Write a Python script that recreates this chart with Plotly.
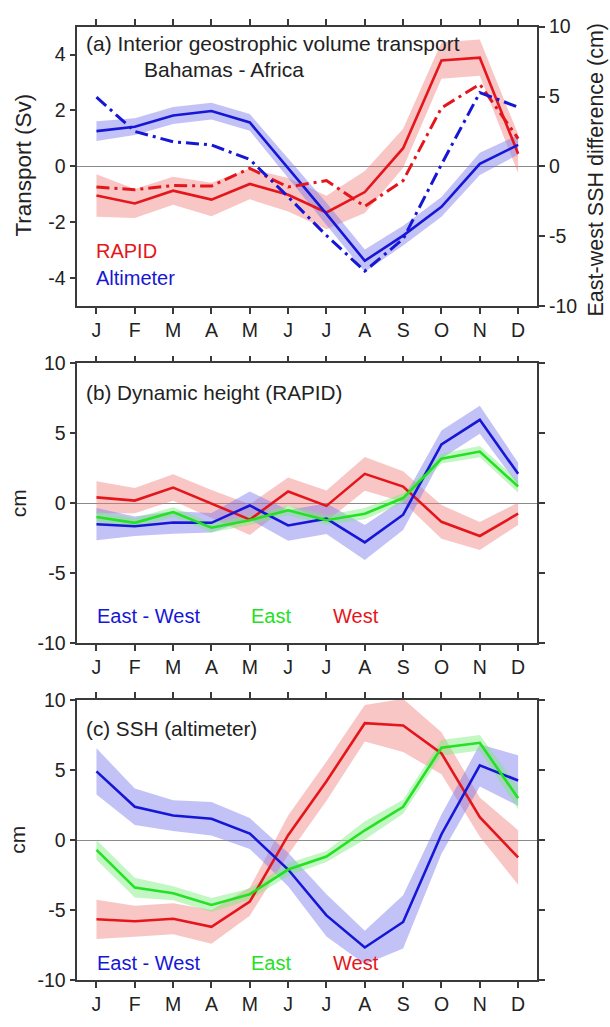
import plotly.graph_objects as go

months = ['J', 'F', 'M', 'A', 'M', 'J', 'J', 'A', 'S', 'O', 'N', 'D']
mnum = list(range(1, 13))
ticks_a = [-4, -2, 0, 2, 4]
ticks_cm = [-10, -5, 0, 5, 10]

# Panel (a): transport (Sv) and east-west SSH difference (cm)
a_rapid = [-1.04, -1.33, -0.87, -1.19, -0.63, -1.02, -1.65, -0.92, 0.65, 3.79, 3.89, 0.45]
a_rapid_err = [0.76, 0.52, 0.5, 0.6, 0.55, 0.6, 0.6, 0.75, 0.7, 0.65, 0.65, 0.7]
a_alt = [1.26, 1.42, 1.82, 1.98, 1.57, -0.05, -1.7, -3.38, -2.48, -1.45, 0.09, 0.77]
a_alt_err = [0.35, 0.3, 0.3, 0.3, 0.3, 0.35, 0.4, 0.4, 0.35, 0.35, 0.4, 0.35]
a_rapid_ssh = [-1.48, -1.67, -1.37, -1.41, -0.14, -1.48, -1.02, -2.87, -1.02, 4.19, 5.88, 1.99]
a_alt_ssh = [4.95, 2.5, 1.76, 1.53, 0.49, -2.18, -4.95, -7.5, -5.2, 0.14, 5.28, 4.24]

# Panel (b): dynamic height (RAPID), cm
b_ew = [-1.5, -1.64, -1.38, -1.4, -0.16, -1.59, -1.1, -2.8, -0.82, 4.2, 5.96, 2.1]
b_ew_err = [1.15, 0.7, 0.8, 0.7, 1.0, 1.1, 1.1, 1.25, 1.1, 1.0, 1.0, 0.8]
b_east = [-0.98, -1.4, -0.63, -1.75, -1.21, -0.51, -1.21, -0.75, 0.37, 3.18, 3.69, 1.19]
b_east_err = [0.4, 0.35, 0.35, 0.35, 0.35, 0.35, 0.35, 0.4, 0.35, 0.35, 0.4, 0.45]
b_west = [0.42, 0.19, 1.12, -0.05, -1.17, 0.84, -0.19, 2.1, 1.19, -1.33, -2.34, -0.75]
b_west_err = [1.15, 0.9, 0.95, 1.0, 1.1, 1.0, 1.1, 1.2, 1.1, 1.2, 1.0, 0.8]

# Panel (c): SSH (altimeter), cm
c_ew = [4.9, 2.38, 1.75, 1.52, 0.47, -2.1, -5.37, -7.66, -5.84, 0.42, 5.33, 4.25]
c_ew_err = [1.65, 1.3, 1.1, 1.2, 1.1, 1.2, 1.5, 1.2, 1.9, 1.4, 1.5, 1.8]
c_east = [-0.7, -3.39, -3.79, -4.63, -3.86, -2.1, -1.17, 0.7, 2.38, 6.59, 6.94, 2.99]
c_east_err = [0.7, 0.7, 0.5, 0.5, 0.4, 0.45, 0.4, 0.65, 0.5, 0.55, 0.55, 0.8]
c_west = [-5.65, -5.79, -5.61, -6.19, -4.39, 0.35, 4.2, 8.34, 8.18, 6.19, 1.64, -1.24]
c_west_err = [1.4, 1.1, 1.1, 1.2, 1.0, 1.4, 1.4, 1.3, 1.9, 1.5, 1.4, 1.95]

RED = 'rgb(228,22,28)'
BLUE = 'rgb(22,22,215)'
GREEN = 'rgb(36,225,36)'
RED_F = 'rgba(240,120,120,0.42)'
BLUE_F = 'rgba(120,120,235,0.45)'
GREEN_F = 'rgba(120,235,120,0.45)'
FONT = 'Liberation Sans, Arial, sans-serif'
AX = '#3a3a3a'

fig = go.Figure()


def band(vals, err, fill, xa, ya):
    up = [v + e for v, e in zip(vals, err)]
    lo = [v - e for v, e in zip(vals, err)]
    fig.add_trace(go.Scatter(x=mnum + mnum[::-1], y=up + lo[::-1], fill='toself',
                             fillcolor=fill, line=dict(width=0), mode='lines',
                             hoverinfo='skip', showlegend=False, xaxis=xa, yaxis=ya))


def line(vals, color, xa, ya, dash='solid', width=2.6):
    fig.add_trace(go.Scatter(x=mnum, y=vals, mode='lines',
                             line=dict(color=color, width=width, dash=dash),
                             showlegend=False, xaxis=xa, yaxis=ya))


DASHDOT = '13px,5px,3px,5px'

# panel a
band(a_rapid, a_rapid_err, RED_F, 'x', 'y')
band(a_alt, a_alt_err, BLUE_F, 'x', 'y')
line(a_rapid, RED, 'x', 'y')
line(a_alt, BLUE, 'x', 'y')
line(a_rapid_ssh, RED, 'x', 'y2', dash=DASHDOT, width=3)
line(a_alt_ssh, BLUE, 'x', 'y2', dash=DASHDOT, width=3)

# panel b
band(b_west, b_west_err, RED_F, 'x2', 'y3')
band(b_ew, b_ew_err, BLUE_F, 'x2', 'y3')
band(b_east, b_east_err, GREEN_F, 'x2', 'y3')
line(b_west, RED, 'x2', 'y3')
line(b_ew, BLUE, 'x2', 'y3')
line(b_east, GREEN, 'x2', 'y3')

# panel c
band(c_west, c_west_err, RED_F, 'x3', 'y4')
band(c_ew, c_ew_err, BLUE_F, 'x3', 'y4')
band(c_east, c_east_err, GREEN_F, 'x3', 'y4')
line(c_west, RED, 'x3', 'y4')
line(c_ew, BLUE, 'x3', 'y4')
line(c_east, GREEN, 'x3', 'y4')

W, H = 610, 1027
xdom = [77.3 / W, 537.3 / W]


def ydom(top, bottom):
    return [1 - bottom / H, 1 - top / H]


TICKFONT = dict(size=19.5, color='#222', family=FONT)
xcommon = dict(range=[0.5, 12.5], tickvals=mnum, ticktext=months, ticks='outside',
               ticklen=6, tickwidth=1.5, tickcolor=AX, showline=True, linecolor=AX,
               linewidth=1.5, mirror='ticks', showgrid=False, zeroline=False,
               tickfont=TICKFONT, domain=xdom)
ycommon = dict(ticks='outside', ticklen=6, tickwidth=1.5, tickcolor=AX, showline=True,
               linecolor=AX, linewidth=1.5, showgrid=False,
               zerolinecolor='#8a8a8a', zerolinewidth=1, tickfont=TICKFONT)


def labels(vals):
    return [str(v) for v in vals]


fig.update_layout(
    width=W, height=H, margin=dict(l=0, r=0, t=0, b=0),
    paper_bgcolor='white', plot_bgcolor='white', showlegend=False,
    font=dict(family=FONT, color='#222'),
    xaxis=dict(**xcommon, anchor='y'),
    xaxis2=dict(**xcommon, anchor='y3'),
    xaxis3=dict(**xcommon, anchor='y4'),
    yaxis=dict(**ycommon, zeroline=True, range=[-5, 5], tickvals=ticks_a,
               ticktext=labels(ticks_a), mirror=True, domain=ydom(16, 301.5), anchor='x'),
    yaxis2=dict(**ycommon, zeroline=False, range=[-10, 10], tickvals=ticks_cm,
                ticktext=labels(ticks_cm), overlaying='y', side='right', anchor='x'),
    yaxis3=dict(**ycommon, zeroline=True, range=[-10, 10], tickvals=ticks_cm,
                ticktext=labels(ticks_cm), mirror='ticks', domain=ydom(360, 646), anchor='x2'),
    yaxis4=dict(**ycommon, zeroline=True, range=[-10, 10], tickvals=ticks_cm,
                ticktext=labels(ticks_cm), mirror='ticks', domain=ydom(704, 990.5), anchor='x3'),
)


def txt(x, y, s, color='#222', size=20, angle=0, xanchor='left'):
    fig.add_annotation(x=x / W, y=1 - y / H, xref='paper', yref='paper', text=s,
                       showarrow=False, xanchor=xanchor, yanchor='middle',
                       textangle=angle, font=dict(size=size, color=color, family=FONT))


txt(84, 33, '(a) Interior geostrophic volume transport', size=21)
txt(142, 60, 'Bahamas - Africa', size=21)
txt(94, 245, 'RAPID', RED)
txt(94, 273, 'Altimeter', BLUE)
txt(24, 158, 'Transport (Sv)', size=22.5, angle=-90, xanchor='center')
txt(596, 162, 'East-west SSH difference (cm)', size=21.5, angle=-90, xanchor='center')

txt(84, 390, '(b) Dynamic height (RAPID)', size=20.7)
txt(95, 618, 'East - West', BLUE)
txt(249, 618, 'East', GREEN)
txt(331, 618, 'West', RED)
txt(18, 503, 'cm', size=21, angle=-90, xanchor='center')

txt(84, 733, '(c) SSH (altimeter)', size=20.7)
txt(95, 973, 'East - West', BLUE)
txt(249, 973, 'East', GREEN)
txt(331, 973, 'West', RED)
txt(18, 847, 'cm', size=21, angle=-90, xanchor='center')

fig.write_html('out.html')
